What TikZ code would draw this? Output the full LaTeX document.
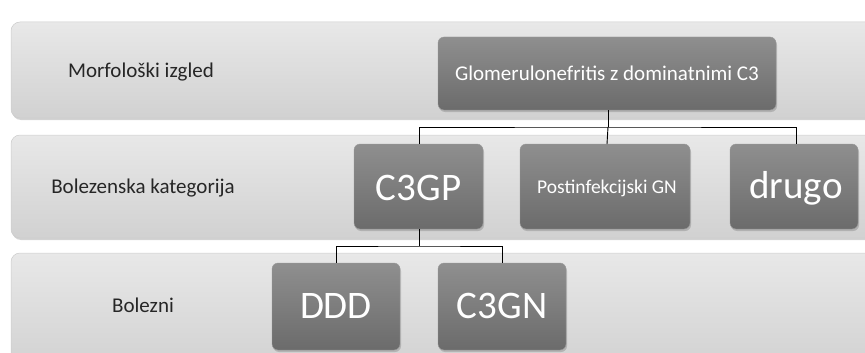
\documentclass[tikz,border=0pt]{standalone}
\usepackage{fontspec}
\setmainfont{Carlito}
\usetikzlibrary{shadows}
\begin{document}
\begin{tikzpicture}[x=1pt,y=-1pt,
  band/.style={rounded corners=9pt, top color=black!9, bottom color=black!18, draw=black!20, line width=0.5pt,
     drop shadow={shadow xshift=1pt,shadow yshift=-2pt,opacity=0.35}},
  boxn/.style={rounded corners=6pt, top color=black!44, bottom color=black!58, draw=black!40, line width=0.4pt,
     drop shadow={shadow xshift=1pt,shadow yshift=-2pt,opacity=0.4}},
  lbl/.style={text=black!85, font=\fontsize{21}{24}\selectfont},
  small/.style={text=white, font=\fontsize{21}{24}\selectfont},
  smaller/.style={text=white, font=\fontsize{19.5}{22}\selectfont},
  big/.style={text=white, font=\fontsize{39}{44}\selectfont},
  conn/.style={draw=black, line width=0.9pt}]
\useasboundingbox (0,0) rectangle (865,353);
% bands
\path[band] (11,22) rectangle (880,118);
\path[band] (11,135) rectangle (880,238);
\path[band] (11,253) rectangle (880,370);
% labels
\node[lbl] (l1) at (141,72) {Morfološki izgled};
\node[lbl] (l2) at (143,188) {Bolezenska kategorija};
\node[lbl] (l3) at (143,305) {Bolezni};
% boxes
\path[boxn] (438,37) rectangle (776,110);
\node[small] (glom) at (607,73) {Glomerulonefritis z dominatnimi C3};
\coordinate (glomb) at (608,110);
\path[boxn] (354,144) rectangle (483,229);
\node[big] (c3gp) at (418.5,188) {C3GP};
\coordinate (c3gpt) at (419,144);
\coordinate (c3gpb) at (419,229);
\path[boxn] (520,144) rectangle (690,229);
\node[smaller] (post) at (607,188) {Postinfekcijski GN};
\coordinate (postt) at (607,144);
\path[boxn] (730,144) rectangle (858,229);
\node[big] (drugo) at (796,188) {drugo};
\coordinate (drugot) at (796,144);
\path[boxn] (272,263) rectangle (400,350);
\node[big] (ddd) at (336,306) {DDD};
\coordinate (dddt) at (336,263);
\path[boxn] (438,263) rectangle (566,350);
\node[big] (c3gn) at (502,306) {C3GN};
\coordinate (c3gnt) at (502,263);
% connectors
\draw[conn] (glomb) -- (608,127) coordinate (j1);
\draw[conn] (c3gpt) |- (j1) -| (drugot);
\draw[conn] (j1) -- (postt);
\draw[conn] (c3gpb) -- (419,246) coordinate (j2);
\draw[conn] (dddt) |- (j2) -| (c3gnt);
\end{tikzpicture}
\end{document}
